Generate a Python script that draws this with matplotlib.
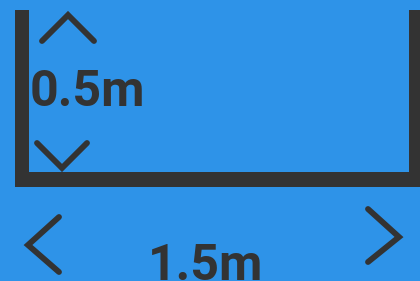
import matplotlib
matplotlib.use("Agg")
import matplotlib.pyplot as plt

# dimensions shown on the drawing
labels = ["1.5m", "0.5m"]
width_m = 1.5
height_m = 0.5

bg = "#2e93e8"
ink = "#333333"

fig = plt.figure(figsize=(4.2, 2.81), dpi=100)
fig.patch.set_facecolor(bg)
ax = fig.add_axes([0, 0, 1, 1])
ax.set_facecolor(bg)
ax.set_xlim(0, 420)
ax.set_ylim(281, 0)
ax.axis("off")

# box outline (open top)
ax.fill([15, 29, 29, 15], [10, 10, 187, 187], color=ink, lw=0)
ax.fill([15, 420, 420, 15], [172, 172, 187, 187], color=ink, lw=0)
ax.fill([409, 420, 420, 409], [10, 10, 187, 187], color=ink, lw=0)

# chevrons
kw = dict(color=ink, lw=4.2, solid_capstyle="round", solid_joinstyle="miter")
ax.plot([42, 68, 94], [41, 15, 41], **kw)
ax.plot([37, 62, 87], [143, 168, 143], **kw)
ax.plot([59, 28, 59], [217, 245, 272], **kw)
ax.plot([368, 399, 368], [209, 237, 262], **kw)

# labels
ax.text(87, 106, labels[1], ha="center", va="baseline", fontsize=36,
        fontweight="bold", family="Roboto", color=ink)
ax.text(206, 280, labels[0], ha="center", va="baseline", fontsize=36,
        fontweight="bold", family="Roboto", color=ink)

fig.savefig("out.png", dpi=100, facecolor=bg)
